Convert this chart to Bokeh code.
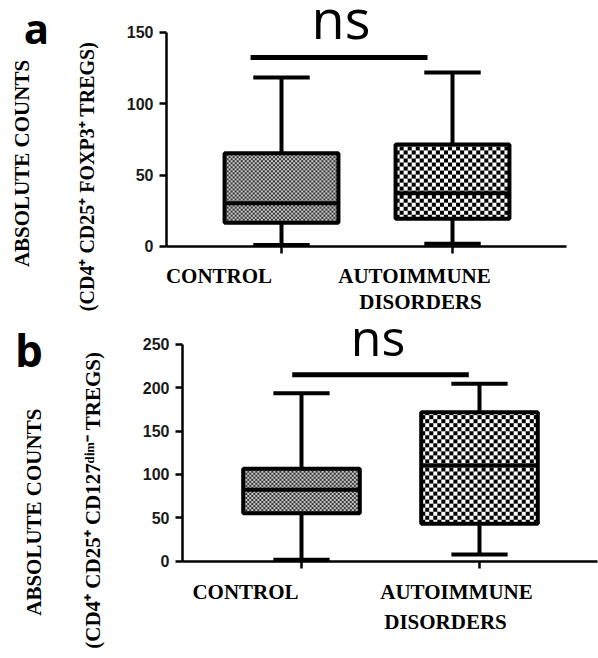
import math
import numpy as np
from bokeh.plotting import figure
from bokeh.models import Label, FixedTicker, Range1d, ColumnDataSource
from bokeh.layouts import column
from bokeh.embed import file_html
from bokeh.resources import INLINE

# ---------------- data ----------------
groups = ["CONTROL", "AUTOIMMUNE DISORDERS"]
group_pos = [1, 2]

# panel a : CD4+ CD25+ FOXP3+ Tregs
a_min = [1, 2]
a_q1 = [16.6, 19.4]
a_med = [30.3, 37.3]
a_q3 = [65.4, 71.5]
a_max = [118.5, 122]
a_yticks = [0, 50, 100, 150]
a_ns_level = 132.5
a_ylabel1 = "ABSOLUTE COUNTS"
a_ylabel2 = "(CD4\u207a CD25\u207a FOXP3\u207a TREGS)"

# panel b : CD4+ CD25+ CD127dim- Tregs
b_min = [1.6, 7.7]
b_q1 = [55.4, 43.1]
b_med = [82.3, 110.4]
b_q3 = [106.6, 171.9]
b_max = [193.8, 204.6]
b_yticks = [0, 50, 100, 150, 200, 250]
b_ns_level = 215
b_ylabel1 = "ABSOLUTE COUNTS"
b_ylabel2 = "(CD4\u207a CD25\u207a CD127\u1d48\u2071\u1d50\u207b TREGS)"

sig_text = "ns"

SERIF = "Liberation Serif"
W = 598


def lab(p, text, x, y, xo, yo, size, font=SERIF, style="bold", angle=0.0,
        align="center", baseline="middle"):
    p.add_layout(Label(x=x, y=y, x_offset=xo, y_offset=yo, text=text,
                       text_font=font, text_font_size=size,
                       text_font_style=style, text_color="black",
                       angle=angle, text_align=align, text_baseline=baseline))


def checker(nx, ny, s, dark, light):
    yy, xx = np.mgrid[0:ny, 0:nx]
    m = ((xx // s) + (yy // s)) % 2 == 0
    img = np.empty((ny, nx), dtype=np.uint32)
    v = img.view(dtype=np.uint8).reshape((ny, nx, 4))
    v[m] = dark
    v[~m] = light
    return img


def panel(mn, q1, med, q3, mx, yticks, ns_level, ns_x, height, xr, yr,
          y_axis_x, x_axis_end, box_hw, cap_hw):
    p = figure(width=W, height=height, x_range=Range1d(*xr),
               y_range=Range1d(*yr), output_backend="svg",
               toolbar_location=None, min_border=0)
    p.grid.visible = False
    p.outline_line_color = None
    p.background_fill_color = "white"
    p.border_fill_color = "white"
    pxx = W / (xr[1] - xr[0])
    pxy = height / (yr[1] - yr[0])

    src = ColumnDataSource(dict(
        x=group_pos, mn=mn, q1=q1, med=med, q3=q3, mx=mx,
        left=[g - box_hw for g in group_pos], right=[g + box_hw for g in group_pos],
        cl=[g - cap_hw for g in group_pos], cr=[g + cap_hw for g in group_pos],
    ))
    lw = 4
    p.segment(x0="x", y0="q3", x1="x", y1="mx", source=src, line_width=lw, line_color="black")
    p.segment(x0="x", y0="mn", x1="x", y1="q1", source=src, line_width=lw, line_color="black")
    p.segment(x0="cl", y0="mx", x1="cr", y1="mx", source=src, line_width=lw, line_color="black")
    p.segment(x0="cl", y0="mn", x1="cr", y1="mn", source=src, line_width=lw, line_color="black")
    # checkerboard box fills (fine grey for control, coarse black/white for autoimmune)
    imgs = []
    for i in range(len(group_pos)):
        nx = int(round(2 * box_hw * pxx))
        ny = int(round((q3[i] - q1[i]) * pxy))
        if i == 0:
            imgs.append(checker(nx, ny, 2, (55, 55, 55, 255), (200, 200, 200, 255)))
        else:
            imgs.append(checker(nx, ny, 4, (0, 0, 0, 255), (255, 255, 255, 255)))
    p.image_rgba(image=imgs, x=src.data["left"], y=q1,
                 dw=[2 * box_hw] * 2, dh=[q3[i] - q1[i] for i in range(2)])
    p.quad(left="left", right="right", bottom="q1", top="q3", source=src,
           fill_color=None, line_color="black", line_width=lw)
    p.segment(x0="left", y0="med", x1="right", y1="med", source=src, line_width=lw,
              line_color="black")
    # significance bar
    p.segment(x0=[ns_x[0]], y0=[ns_level], x1=[ns_x[1]], y1=[ns_level],
              line_width=5, line_color="black")

    for ax in (p.xaxis[0], p.yaxis[0]):
        ax.axis_line_width = 2.5
        ax.axis_line_color = "black"
        ax.major_tick_line_width = 2.5
        ax.major_tick_line_color = "black"
        ax.major_tick_out = 7
        ax.major_tick_in = 0
        ax.minor_tick_line_color = None
    p.xaxis.fixed_location = 0
    p.xaxis.bounds = (y_axis_x, x_axis_end)
    p.xaxis.ticker = FixedTicker(ticks=group_pos)
    p.xaxis.major_label_overrides = {g: "" for g in group_pos}
    p.yaxis.fixed_location = y_axis_x
    p.yaxis.ticker = FixedTicker(ticks=yticks)
    p.yaxis.bounds = (yticks[0], yticks[-1])
    p.yaxis.major_label_text_font = "Liberation Sans"
    p.yaxis.major_label_text_font_style = "bold"
    p.yaxis.major_label_text_font_size = "16px"
    p.yaxis.major_label_text_color = "#1a1a1a"
    p.yaxis.major_label_standoff = 6
    return p


g2 = groups[1].split(" ")

# ---------- panel a ----------
xa0 = 0.3275
pa = panel(a_min, a_q1, a_med, a_q3, a_max, a_yticks, a_ns_level, (0.819, 1.854),
           height=320, xr=(-0.6433, -0.6433 + W / 171), yr=(-51.86, 172.39),
           y_axis_x=xa0, x_axis_end=2.6667, box_hw=0.333, cap_hw=0.165)
lab(pa, a_ylabel1, xa0, 0, -145, 83, "21px", angle=math.pi / 2)
lab(pa, a_ylabel2, xa0, 0, -80, 70, "20px", angle=math.pi / 2)
lab(pa, "a", xa0, 0, -130, 219, "42px", font="Open Sans", baseline="alphabetic")
lab(pa, sig_text, 1.5, 0, -26, 228, "54px", font="Open Sans", style="normal",
    baseline="alphabetic")
lab(pa, groups[0], group_pos[0], 0, -62.5, -30, "21px")
lab(pa, g2[0], group_pos[1], 0, -38, -30, "21px")
lab(pa, g2[1], group_pos[1], 0, -32, -56, "21px")

# ---------- panel b ----------
xb0 = 0.3315
pb = panel(b_min, b_q1, b_med, b_q3, b_max, b_yticks, b_ns_level, (0.948, 1.94),
           height=336, xr=(-0.691, -0.691 + W / 178), yr=(-109.9, 277.6),
           y_axis_x=xb0, x_axis_end=2.663, box_hw=0.3275, cap_hw=0.158)
lab(pb, b_ylabel1, xb0, 0, -149, 49, "21px", angle=math.pi / 2)
lab(pb, b_ylabel2, xb0, 0, -90, 61, "21px", angle=math.pi / 2)
lab(pb, "b", xb0, 0, -153.5, 211, "44px", font="Open Sans", baseline="alphabetic")
lab(pb, sig_text, 1.5, 0, -12.5, 224, "50px", font="Open Sans", style="normal",
    baseline="alphabetic")
lab(pb, groups[0], group_pos[0], 0, -56, -31, "21px")
lab(pb, g2[0], group_pos[1], 0, -23, -31, "21px")
lab(pb, g2[1], group_pos[1], 0, -34, -61, "21px")

layout = column(pa, pb, spacing=0)
open("out.html", "w").write(file_html(layout, INLINE))
